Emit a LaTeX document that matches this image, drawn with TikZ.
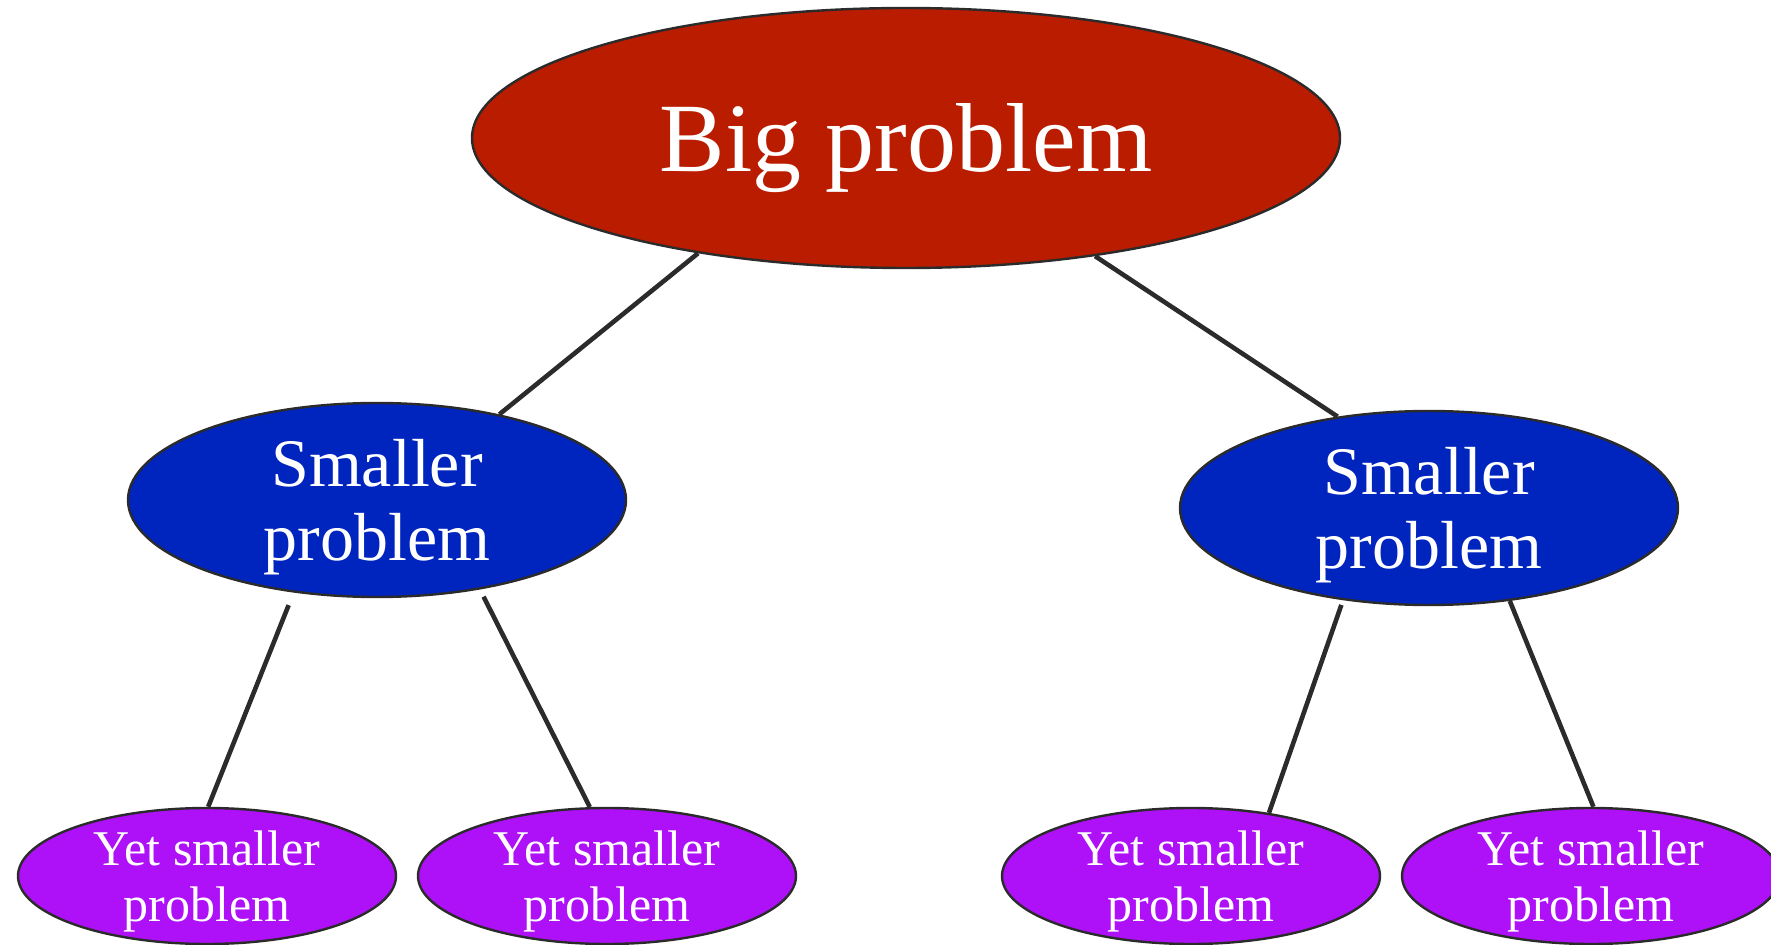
\documentclass[tikz,border=0pt]{standalone}
\usepackage{fontspec}
\setmainfont{Liberation Serif}
\usetikzlibrary{shapes.geometric}
\definecolor{bigred}{RGB}{186,28,0}
\definecolor{smallblue}{RGB}{0,36,190}
\definecolor{tinypurple}{RGB}{174,16,248}
\definecolor{edgegray}{RGB}{43,43,43}
\tikzset{
  prob/.style={ellipse, draw=edgegray, line width=1.2pt, inner sep=0pt, text=white, align=center, text depth=0pt},
  bigprob/.style={prob, fill=bigred, minimum width=434pt, minimum height=130pt, font=\fontsize{49}{54}\selectfont},
  midprob/.style={prob, fill=smallblue, minimum width=249pt, minimum height=97pt, font=\fontsize{34}{37}\selectfont},
  lowprob/.style={prob, fill=tinypurple, minimum width=189pt, minimum height=68pt, font=\fontsize{25}{28}\selectfont},
  link/.style={draw=edgegray, line width=2.3pt}
}
\begin{document}
\begin{tikzpicture}[x=0.5pt,y=-0.5pt]
\useasboundingbox (0,0) rectangle (1771,945);
\node[bigprob] (big) at (906,138) {Big problem};
\node[midprob] (s1) at (377,500) {Smaller\\problem};
\node[midprob] (s2) at (1429,508) {Smaller\\problem};
\node[lowprob] (b1) at (207,876) {Yet smaller\\problem};
\node[lowprob] (b2) at (607,876) {Yet smaller\\problem};
\node[lowprob] (b3) at (1191,876) {Yet smaller\\problem};
\node[lowprob] (b4) at (1591,876) {Yet smaller\\problem};
\draw[link] (big.209.8) -- (s1.35.4);
\draw[link] (big.-32.3) -- (s2.135.3);
\draw[link, shorten <=6.75pt] (s1.228.5) -- (b1.89);
\draw[link, shorten <=4pt] (s1.-41.8) -- (b2.104.2);
\draw[link, shorten <=2.5pt] (s2.227.3) -- (b3.39.9);
\draw[link] (s2.-49.7) -- (b4.88);
\end{tikzpicture}
\end{document}
